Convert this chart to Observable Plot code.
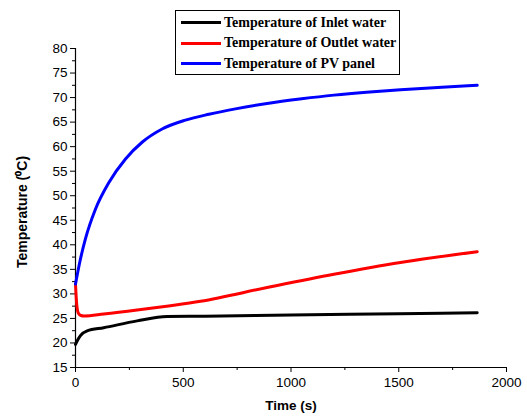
<!DOCTYPE html>
<html>
<head>
<meta charset="utf-8">
<script src="https://cdn.jsdelivr.net/npm/d3@7"></script>
<script src="https://cdn.jsdelivr.net/npm/@observablehq/plot@0.6"></script>
<style>
  html, body { margin: 0; padding: 0; background: white; }
  #wrap { position: relative; width: 527px; height: 417px; }
  #legend { position: absolute; left: 175px; top: 10px; width: 223px; height: 63px;
    border: 1px solid black; background: white; font-family: "Liberation Serif", "Times New Roman", serif;
    font-weight: bold; font-size: 14px; color: black; }
  .row { position: absolute; left: 0; height: 16px; display: flex; align-items: center; white-space: nowrap; }
  .sw { width: 40px; height: 3px; margin-left: 5px; margin-right: 3px; }
</style>
</head>
<body>
<div id="wrap"></div>
<script>
// Series: Temperature of Inlet water
const inletTime = [0, 10, 23, 54, 131, 286, 425, 600, 1000, 1500, 1864];
const inletTemp = [19.7, 20.6, 21.5, 22.45, 23.1, 24.5, 25.4, 25.45, 25.7, 25.95, 26.15];
// Series: Temperature of Outlet water
const outletTime = [0, 3, 7, 14, 25, 40, 131, 286, 441, 580, 889, 1199, 1508, 1864];
const outletTemp = [32.0, 29.5, 27.3, 26.0, 25.6, 25.5, 25.9, 26.7, 27.6, 28.5, 31.3, 34.0, 36.4, 38.6];
// Series: Temperature of PV panel
const pvTime = [0, 20, 46, 93, 155, 232, 309, 402, 510, 619, 742, 889, 1050, 1199, 1350, 1508, 1700, 1864];
const pvTemp = [32.0, 36.5, 41.2, 47.3, 52.7, 57.5, 60.9, 63.6, 65.4, 66.6, 67.7, 68.8, 69.75, 70.5, 71.1, 71.6, 72.1, 72.5];

const seriesNames = ["Temperature of Inlet water", "Temperature of Outlet water", "Temperature of PV panel"];
const seriesColors = ["#000000", "#ff0000", "#0000ff"];

const xTicks = [0, 500, 1000, 1500, 2000];
const xMinor = [250, 750, 1250, 1750];
const yTicks = [15, 20, 25, 30, 35, 40, 45, 50, 55, 60, 65, 70, 75, 80];
const yMinor = [17.5, 22.5, 27.5, 32.5, 37.5, 42.5, 47.5, 52.5, 57.5, 62.5, 67.5, 72.5, 77.5];

const xLabel = "Time (s)";
const yLabel = "Temperature (\u2070C)";

const rows = [];
[[inletTime, inletTemp], [outletTime, outletTemp], [pvTime, pvTemp]].forEach(([ts, vs], i) => {
  ts.forEach((t, j) => rows.push({series: seriesNames[i], t, v: vs[j]}));
});

const chart = Plot.plot({
  width: 527,
  height: 417,
  marginLeft: 75,
  marginRight: 21,
  marginTop: 48,
  marginBottom: 50,
  x: {domain: [0, 2000]},
  y: {domain: [15, 80]},
  color: {domain: seriesNames, range: seriesColors},
  style: {fontFamily: "'Liberation Sans', Arial, sans-serif", fontSize: "13.5px", color: "black", background: "white"},
  marks: [
    Plot.axisX({ticks: xTicks, tickSize: 5, tickPadding: 5, tickFormat: d => String(d), label: null, fontSize: 13.5}),
    Plot.axisX({ticks: xMinor, tickSize: 3, text: null, label: null}),
    Plot.axisY({ticks: yTicks, tickSize: 5, tickPadding: 3, tickFormat: d => String(d), label: null, fontSize: 13.5}),
    Plot.axisY({ticks: yMinor, tickSize: 3, text: null, label: null}),
    Plot.ruleX([0], {stroke: "black", strokeWidth: 1.2}),
    Plot.ruleY([15], {stroke: "black", strokeWidth: 1.2}),
    Plot.line(rows, {x: "t", y: "v", z: "series", stroke: "series", strokeWidth: 3, curve: "monotone-x"}),
    Plot.text([xLabel], {frameAnchor: "bottom", dy: 42, fontWeight: "bold", fontSize: 13.5, textAnchor: "middle"}),
    Plot.text([yLabel], {frameAnchor: "left", dx: -53, dy: 4, rotate: -90, fontWeight: "bold", fontSize: 14, textAnchor: "middle"})
  ]
});

const wrap = document.getElementById("wrap");
wrap.appendChild(chart);

const legend = document.createElement("div");
legend.id = "legend";
seriesNames.forEach((name, i) => {
  const r = document.createElement("div");
  r.className = "row";
  r.style.top = (3.5 + i * 20.5) + "px";
  const sw = document.createElement("div");
  sw.className = "sw";
  sw.style.background = seriesColors[i];
  const tx = document.createElement("span");
  tx.textContent = name;
  r.appendChild(sw);
  r.appendChild(tx);
  legend.appendChild(r);
});
wrap.appendChild(legend);
</script>
</body>
</html>
